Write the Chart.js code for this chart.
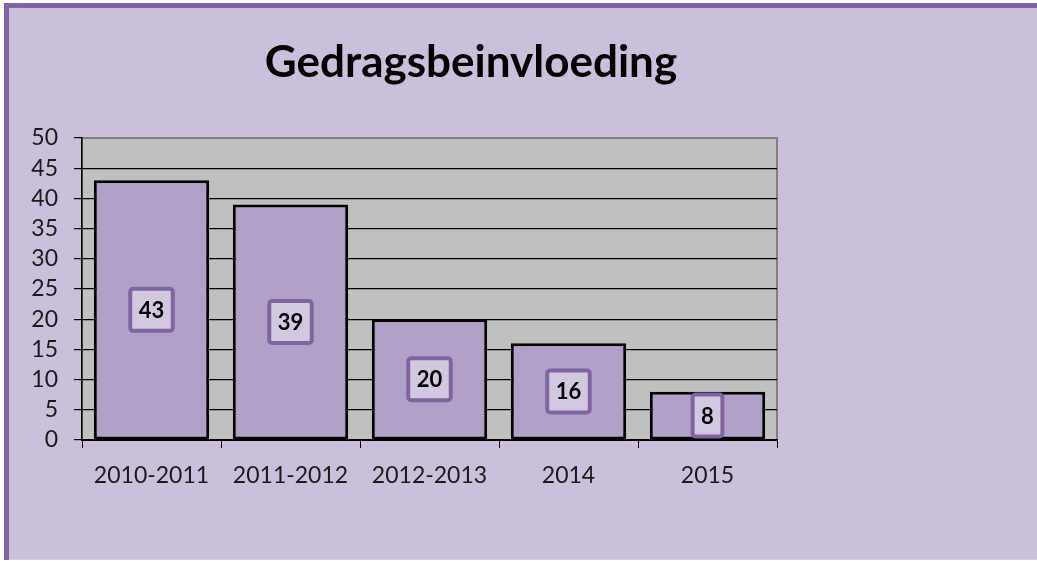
<!DOCTYPE html>
<html>
<head>
<meta charset="utf-8">
<script src="https://cdn.jsdelivr.net/npm/chart.js@4"></script>
<style>
  html, body { margin: 0; padding: 0; background: #ffffff; }
  #wrap { position: relative; width: 1037px; height: 562px; }
  canvas { display: block; }
</style>
</head>
<body>
<div id="wrap"><canvas id="c" width="1037" height="562"></canvas></div>
<script>
const TITLE = "Gedragsbeinvloeding";
const categories = ["2010-2011", "2011-2012", "2012-2013", "2014", "2015"];
const values = [43, 39, 20, 16, 8];
const yTicks = [0, 5, 10, 15, 20, 25, 30, 35, 40, 45, 50];

const BG = "#cbc0dc";
const PURPLE = "#8064a2";
const BAR = "#b1a0c7";
const PLOT = "#c0c0c0";
const FONT = "Lato, 'Open Sans', sans-serif";

const framePlugin = {
  id: "frame",
  beforeDraw(chart) {
    const ctx = chart.ctx;
    ctx.save();
    ctx.fillStyle = "#ffffff";
    ctx.fillRect(0, 0, chart.width, chart.height);
    ctx.fillStyle = BG;
    ctx.fillRect(4, 3, chart.width - 4, 557);
    ctx.fillStyle = PURPLE;
    ctx.fillRect(4, 3, chart.width - 4, 5);
    ctx.fillRect(4, 3, 5, 557);
    ctx.fillStyle = "#d6cde4";
    ctx.fillRect(9, 559, chart.width - 9, 1);
    const a = chart.chartArea;
    ctx.fillStyle = PLOT;
    ctx.fillRect(a.left, a.top, a.right - a.left, a.bottom - a.top);
    ctx.strokeStyle = "#7f7f7f";
    ctx.lineWidth = 2;
    ctx.strokeRect(a.left, a.top, a.right - a.left, a.bottom - a.top);
    ctx.restore();
  },
  afterDraw(chart) {
    const ctx = chart.ctx;
    ctx.save();
    ctx.fillStyle = "#000000";
    ctx.font = "bold 44px " + FONT;
    ctx.textAlign = "center";
    ctx.textBaseline = "alphabetic";
    ctx.fillText(TITLE, 471, 77);
    ctx.restore();
  }
};

const labelPlugin = {
  id: "valueLabels",
  afterDatasetsDraw(chart) {
    const ctx = chart.ctx;
    const meta = chart.getDatasetMeta(0);
    ctx.save();
    ctx.font = "bold 22px " + FONT;
    ctx.textAlign = "center";
    ctx.textBaseline = "middle";
    meta.data.forEach((bar, i) => {
      const txt = String(values[i]);
      const cx = bar.x;
      const cy = (bar.y + bar.base) / 2;
      const w = ctx.measureText(txt).width + 21;
      const h = 46;
      const x = cx - w / 2 + 2, y = cy - h / 2 + 2;
      ctx.beginPath();
      ctx.roundRect(x, y, w - 4, h - 4, 3);
      ctx.fillStyle = "#d2c8e0";
      ctx.fill();
      ctx.lineWidth = 4;
      ctx.strokeStyle = PURPLE;
      ctx.stroke();
      ctx.fillStyle = "#000000";
      ctx.fillText(txt, cx, cy + 1);
    });
    ctx.restore();
  }
};

new Chart(document.getElementById("c"), {
  type: "bar",
  data: {
    labels: categories,
    datasets: [{
      data: values,
      backgroundColor: BAR,
      borderColor: "#000000",
      borderWidth: 3,
      borderSkipped: false,
      barPercentage: 0.83,
      categoryPercentage: 1.0
    }]
  },
  options: {
    responsive: false,
    animation: false,
    devicePixelRatio: 1,
    layout: { padding: { left: 0, right: 260, top: 138, bottom: 62 } },
    plugins: {
      legend: { display: false },
      title: { display: false },
      tooltip: { enabled: false }
    },
    scales: {
      x: {
        afterFit(scale) { scale.height = 60; },
        grid: {
          offset: true,
          drawOnChartArea: false,
          drawTicks: true,
          tickLength: 8,
          tickColor: "#000000",
          lineWidth: 1
        },
        border: { display: true, color: "#000000", width: 2 },
        ticks: {
          color: "#1a1a1a",
          font: { family: FONT, size: 23 },
          padding: 14,
          maxRotation: 0,
          autoSkip: false
        }
      },
      y: {
        min: 0,
        max: 50,
        afterFit(scale) { scale.width = 82; },
        afterBuildTicks(scale) { scale.ticks = yTicks.map(v => ({ value: v })); },
        grid: {
          color: (c) => (c.tick && c.tick.value === 50 ? "#7f7f7f" : "#000000"),
          lineWidth: 1.2,
          tickLength: 8,
          tickColor: "#000000",
          drawTicks: true
        },
        border: { display: true, color: "#000000", width: 1.5 },
        ticks: {
          color: "#1a1a1a",
          font: { family: FONT, size: 23 },
          padding: 16,
          autoSkip: false
        }
      }
    }
  },
  plugins: [framePlugin, labelPlugin]
});
</script>
</body>
</html>
